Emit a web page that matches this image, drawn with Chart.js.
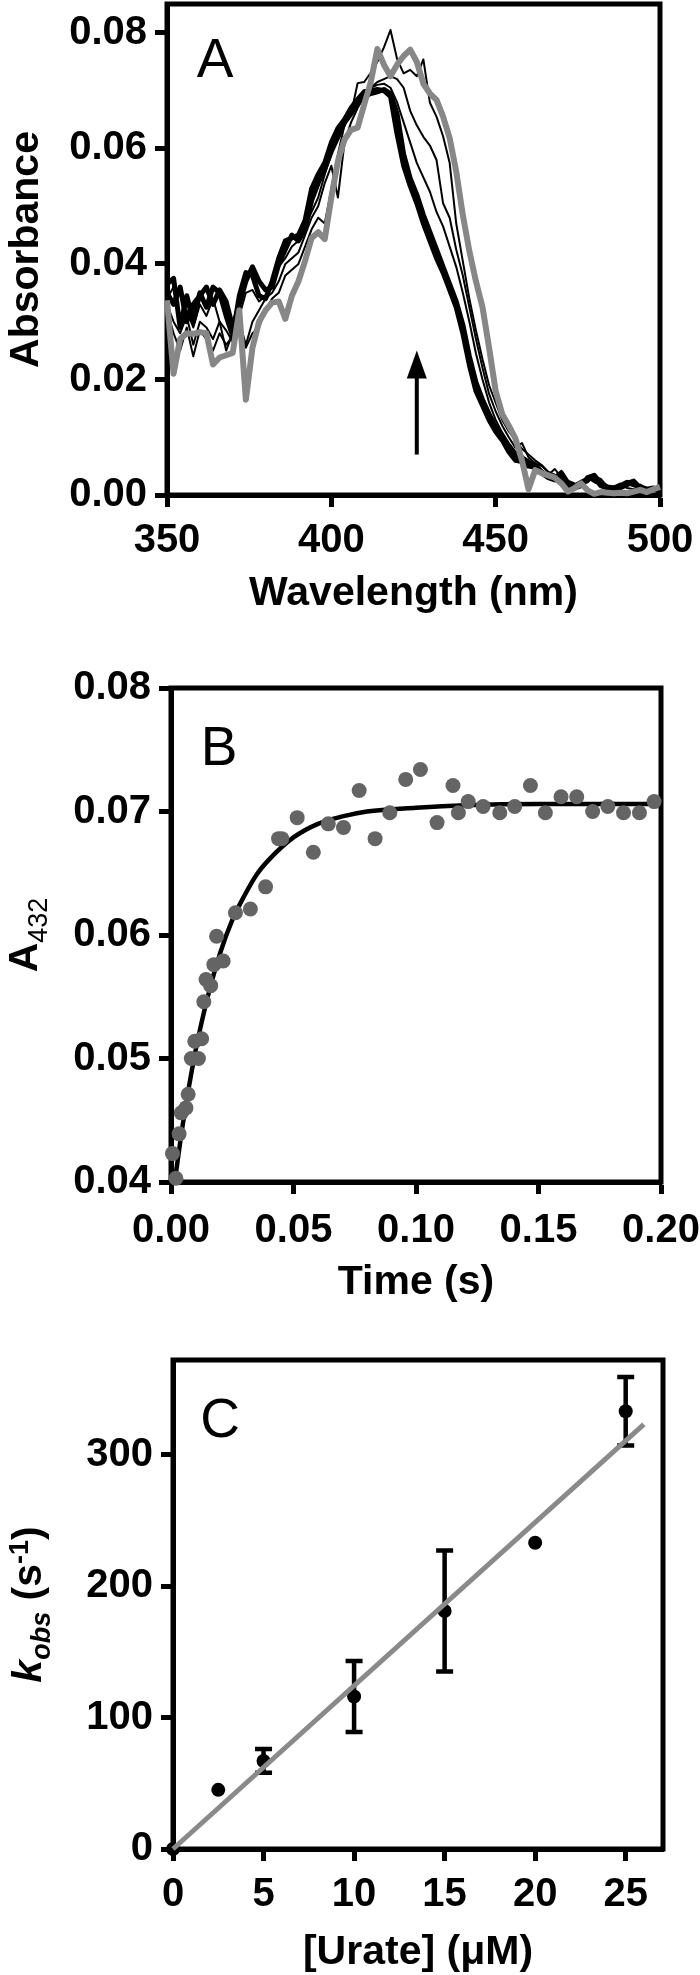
<!DOCTYPE html>
<html><head><meta charset="utf-8">
<script src="https://cdn.jsdelivr.net/npm/chart.js@4.4.1/dist/chart.umd.min.js"></script>
<style>
html,body{margin:0;padding:0;background:#fff;}
body{width:700px;height:1975px;position:relative;overflow:hidden;}
canvas{position:absolute;left:0;}
</style></head><body>
<canvas id="cA" width="700" height="650" style="top:0px;width:700px;height:650px"></canvas>
<canvas id="cB" width="700" height="680" style="top:650px;width:700px;height:680px"></canvas>
<canvas id="cC" width="700" height="645" style="top:1330px;width:700px;height:645px"></canvas>
<script>
// ---------------- Panel A data (spectra) ----------------
const wavelengths = [350,352,354,356,358,360,362,364,366,368,370,372,374,376,378,380,382,384,386,388,
390,392,394,396,398,400,402,404,406,408,410,412,414,416,418,420,422,424,426,428,
430,432,434,436,438,440,442,444,446,448,450,452,454,456,458,460,462,464,466,468,
470,472,474,476,478,480,482,484,486,488,490,492,494,496,498,500];
const absThick1 = [.0365,.0375,.0290,.0345,.0300,.0350,.0325,.0360,.0350,.0310,
.0275,.0345,.0385,.0380,.0345,.0340,.0370,.0410,.0440,.0445,
.0450,.0475,.0530,.0555,.0575,.0610,.0635,.0650,.0670,.0685,
.0698,.0700,.0702,.0700,.0690,.0625,.0570,.0535,.0505,.0470,
.0440,.0410,.0385,.0355,.0325,.0280,.0225,.0180,.0155,.0130,
.0110,.0095,.0075,.0060,.0058,.0050,.0048,.0038,.0030,.0026,
.0028,.0016,.0014,.0020,.0028,.0030,.0016,.0012,.0010,.0014,
.0020,.0024,.0012,.0008,.0010,.0006];
const absThick2 = [.0350,.0330,.0360,.0300,.0330,.0345,.0360,.0330,.0355,.0335,
.0290,.0330,.0370,.0395,.0370,.0355,.0360,.0400,.0425,.0450,
.0440,.0460,.0510,.0540,.0565,.0595,.0620,.0645,.0660,.0680,
.0690,.0695,.0698,.0702,.0695,.0660,.0590,.0548,.0520,.0485,
.0455,.0425,.0395,.0365,.0335,.0295,.0240,.0195,.0165,.0140,
.0118,.0100,.0085,.0068,.0060,.0056,.0052,.0040,.0032,.0030,
.0038,.0020,.0012,.0016,.0030,.0034,.0020,.0014,.0012,.0016,
.0022,.0018,.0014,.0010,.0012,.0008];
const absThin1 = [.0340,.0360,.0300,.0320,.0290,.0330,.0310,.0340,.0300,.0285,
.0265,.0310,.0350,.0355,.0335,.0345,.0365,.0395,.0410,.0430,
.0440,.0465,.0490,.0515,.0555,.0590,.0620,.0640,.0660,.0680,
.0695,.0705,.0710,.0712,.0705,.0680,.0645,.0610,.0575,.0550,
.0525,.0490,.0465,.0430,.0395,.0350,.0300,.0245,.0200,.0160,
.0130,.0108,.0090,.0075,.0068,.0060,.0050,.0042,.0035,.0045,
.0030,.0022,.0018,.0020,.0032,.0025,.0015,.0012,.0015,.0020,
.0012,.0010,.0015,.0012,.0008,.0010];
const absThin2 = [.0330,.0300,.0280,.0310,.0260,.0300,.0290,.0270,.0300,.0250,
.0280,.0300,.0260,.0300,.0320,.0340,.0350,.0370,.0400,.0410,
.0420,.0450,.0480,.0500,.0540,.0570,.0515,.0610,.0645,.0670,
.0690,.0705,.0715,.0720,.0725,.0720,.0705,.0665,.0640,.0620,
.0605,.0580,.0505,.0480,.0425,.0380,.0325,.0270,.0220,.0175,
.0145,.0120,.0100,.0082,.0090,.0065,.0055,.0050,.0040,.0032,
.0042,.0025,.0020,.0018,.0022,.0032,.0028,.0015,.0012,.0018,
.0022,.0015,.0018,.0010,.0012,.0008];
const absThin3 = [.0320,.0280,.0250,.0290,.0240,.0285,.0270,.0250,.0280,.0260,
.0275,.0285,.0255,.0280,.0290,.0320,.0340,.0350,.0380,.0390,
.0400,.0430,.0460,.0480,.0470,.0530,.0590,.0640,.0660,.0713,
.0715,.0731,.0750,.0775,.0805,.0755,.0730,.0736,.0725,.0754,
.0679,.0655,.0621,.0575,.0470,.0405,.0340,.0285,.0235,.0190,
.0160,.0130,.0110,.0095,.0080,.0070,.0060,.0052,.0040,.0035,
.0030,.0022,.0018,.0025,.0030,.0022,.0018,.0012,.0008,.0010,
.0015,.0020,.0012,.0008,.0014,.0010];
const absFinal = [.0337,.0210,.0270,.0280,.0279,.0282,.0280,.0226,.0238,.0242,
.0246,.0320,.0165,.0255,.0300,.0320,.0333,.0335,.0305,.0345,
.0370,.0405,.0445,.0455,.0443,.0515,.0578,.0615,.0632,.0636,
.0676,.0715,.0772,.0745,.0725,.0745,.0760,.0771,.0750,.0712,
.0695,.0684,.0655,.0618,.0560,.0485,.0422,.0370,.0325,.0255,
.0180,.0140,.0120,.0098,.0060,.0010,.0043,.0038,.0034,.0030,
.0020,.0006,.0012,.0020,.0008,.0002,.0005,.0004,.0003,.0004,
.0003,.0006,.0009,.0005,.0010,.0014];
const arrowWavelength = [426];
const arrowAbs = [0.007, 0.025];
const ticksA_x = [350, 400, 450, 500];
const ticksA_y = [0, 0.02, 0.04, 0.06, 0.08];

// ---------------- Panel B data (kinetic trace) ----------------
const timeB = [0.0006,0.0020,0.0033,0.0042,0.0061,0.0070,0.0083,0.0097,0.0112,0.0125,
0.0134,0.0143,0.0162,0.0175,0.0186,0.0213,0.0263,0.0324,0.0386,0.0439,
0.0452,0.0515,0.0581,0.0642,0.0704,0.0768,0.0833,0.0893,0.0958,0.1018,
0.1086,0.1151,0.1173,0.1213,0.1274,0.1342,0.1403,0.1467,0.1528,0.1592,
0.1656,0.1721,0.1783,0.1847,0.1912,0.1972];
const a432 = [0.0423,0.0403,0.0439,0.0456,0.0460,0.0471,0.0500,0.0514,0.0500,0.0516,
0.0546,0.0564,0.0559,0.0576,0.0599,0.0579,0.0618,0.0621,0.0639,0.0678,
0.0678,0.0695,0.0667,0.0690,0.0687,0.0717,0.0678,0.0699,0.0726,0.0734,
0.0691,0.0721,0.0699,0.0708,0.0704,0.0699,0.0704,0.0721,0.0699,0.0712,
0.0712,0.0700,0.0704,0.0699,0.0699,0.0708];
const fitTimeB = [0.0015,0.005,0.010,0.015,0.020,0.025,0.030,0.035,0.040,0.050,0.060,0.070,0.080,0.100,0.120,0.150,0.200];
const fitA432 = [0.0400,0.0449,0.0506,0.0550,0.0585,0.0612,0.0632,0.0649,0.0661,0.0679,0.0690,0.0696,0.0700,0.0703,0.0705,0.0706,0.0706];

// ---------------- Panel C data (kobs vs urate) ----------------
const urate = [0, 2.5, 5, 10, 15, 20, 25];
const kobs = [0, 45, 67, 116, 181, 233, 333];
const kobsErr = [0, 0, 9, 27, 46, 0, 26];
const fitUrate = [0, 26];
const fitKobs = [0, 323];

// ---------------- helpers ----------------
const FONT = "'Liberation Sans', Arial, Helvetica, sans-serif";
Chart.defaults.font.family = FONT;
Chart.defaults.color = '#000';

function axis(cfg) {
  return {
    type: 'linear',
    position: cfg.position,
    min: cfg.min, max: cfg.max,
    ticks: {
      stepSize: cfg.step, includeBounds: false, autoSkip: false,
      maxRotation: 0, minRotation: 0, padding: cfg.pad, color: '#000',
      font: {family: FONT, size: 40, weight: 'bold'},
      callback: cfg.fmt
    },
    grid: {display: true, drawOnChartArea: false, drawTicks: true,
      tickLength: 12, tickWidth: 5, tickColor: '#000'},
    border: {display: true, width: 5, color: '#000'},
    title: cfg.title ? {display: true, text: cfg.title, color: '#000',
      font: {family: FONT, size: 41, weight: 'bold', lineHeight: cfg.titleLH || 1.2},
      padding: {top: 0, bottom: cfg.titlePad}} : {display: false},
    afterFit: (s) => {
      if (cfg.position === 'left') s.width = cfg.size; else s.height = cfg.size;
      s.paddingTop = 0; s.paddingBottom = 0; s.paddingLeft = 0; s.paddingRight = 0;
    }
  };
}

function makeDecor(cfg) {
  return {
    id: 'decor' + cfg.name,
    beforeDatasetsDraw(chart) {
      const {ctx, chartArea: a} = chart;
      ctx.save();
      ctx.strokeStyle = '#000'; ctx.lineWidth = 5; ctx.lineJoin = 'miter';
      ctx.strokeRect(a.left, a.top, a.right - a.left, a.bottom - a.top);
      ctx.restore();
      if (cfg.errors) {
        const xs = chart.scales.x, ys = chart.scales.y, e = cfg.errors;
        ctx.save();
        ctx.strokeStyle = '#000'; ctx.lineWidth = 4.5; ctx.lineCap = 'butt';
        for (let i = 0; i < e.x.length; i++) {
          if (!e.err[i]) continue;
          const px = xs.getPixelForValue(e.x[i]);
          const lo = ys.getPixelForValue(e.y[i] - e.err[i]);
          const hi = ys.getPixelForValue(e.y[i] + e.err[i]);
          ctx.beginPath();
          ctx.moveTo(px, lo); ctx.lineTo(px, hi);
          ctx.moveTo(px - 8.5, lo); ctx.lineTo(px + 8.5, lo);
          ctx.moveTo(px - 8.5, hi); ctx.lineTo(px + 8.5, hi);
          ctx.stroke();
        }
        ctx.restore();
      }
    },
    afterDraw(chart) {
      const {ctx, chartArea: a} = chart;
      if (cfg.letter) {
        ctx.save();
        ctx.font = 'normal 55px ' + FONT;
        ctx.fillStyle = '#000'; ctx.textAlign = 'center'; ctx.textBaseline = 'middle';
        ctx.fillText(cfg.letter.text, cfg.letter.x, cfg.letter.y);
        ctx.restore();
      }
      if (cfg.ytitle) {
        const t = cfg.ytitle;
        ctx.save();
        let total = 0;
        const widths = t.segs.map(s => {
          ctx.font = (s.style || 'normal') + ' ' + (s.weight || 'bold') + ' ' + s.size + 'px ' + FONT;
          const w = ctx.measureText(s.text).width; total += w; return w;
        });
        ctx.translate(t.baseX, (a.top + a.bottom) / 2 + (t.shift || 0));
        ctx.rotate(-Math.PI / 2);
        ctx.fillStyle = '#000'; ctx.textBaseline = 'alphabetic'; ctx.textAlign = 'left';
        let u = -total / 2;
        t.segs.forEach((s, i) => {
          ctx.font = (s.style || 'normal') + ' ' + (s.weight || 'bold') + ' ' + s.size + 'px ' + FONT;
          ctx.fillText(s.text, u, s.dy || 0);
          u += widths[i];
        });
        ctx.restore();
      }
      if (cfg.arrow) {
        const xs = chart.scales.x, ys = chart.scales.y, ar = cfg.arrow;
        const px = xs.getPixelForValue(ar.x[0]);
        const yb = ys.getPixelForValue(ar.y[0]);
        const yt = ys.getPixelForValue(ar.y[1]);
        ctx.save();
        ctx.strokeStyle = '#000'; ctx.fillStyle = '#000'; ctx.lineWidth = 4;
        ctx.beginPath(); ctx.moveTo(px, yb); ctx.lineTo(px, yt + 20); ctx.stroke();
        ctx.beginPath(); ctx.moveTo(px, yt); ctx.lineTo(px - 10, yt + 28); ctx.lineTo(px + 10, yt + 28); ctx.closePath(); ctx.fill();
        ctx.restore();
      }
    }
  };
}

const common = {
  animation: false, responsive: false, devicePixelRatio: 1, events: [],
  plugins: {legend: {display: false}, tooltip: {enabled: false}}
};
const xy = (xa, ya) => xa.map((v, i) => ({x: v, y: ya[i]}));
const f2 = (v) => Number(v).toFixed(2);
const f0 = (v) => String(Math.round(v));

// ---------------- Chart A ----------------
function specLine(arr, color, width, order) {
  return {type: 'line', data: xy(wavelengths, arr), borderColor: color, borderWidth: width,
    pointRadius: 0, tension: 0, borderJoinStyle: 'round', order: order, clip: 4};
}
new Chart(document.getElementById('cA'), {
  type: 'line',
  data: {datasets: [
    specLine(absFinal, '#878787', 6, 0),
    specLine(absThin3, '#000', 2, 1),
    specLine(absThin2, '#000', 2, 2),
    specLine(absThin1, '#000', 2, 3),
    specLine(absThick2, '#000', 5, 4),
    specLine(absThick1, '#000', 5, 5)
  ]},
  options: Object.assign({}, common, {
    layout: {padding: {top: 4, right: 40, left: 0, bottom: 0}},
    scales: {
      x: axis({position: 'bottom', min: ticksA_x[0], max: ticksA_x[3], step: 50, pad: 10, fmt: f0,
               size: 155, title: 'Wavelength (nm)', titlePad: 32}),
      y: axis({position: 'left', min: ticksA_y[0], max: 0.085, step: 0.02, pad: 8, fmt: f2, size: 167})
    }
  }),
  plugins: [makeDecor({name: 'A', letter: {text: 'A', x: 215, y: 62},
    ytitle: {baseX: 38, segs: [{text: 'Absorbance', size: 41}]},
    arrow: {x: arrowWavelength, y: arrowAbs}})]
});

// ---------------- Chart B ----------------
new Chart(document.getElementById('cB'), {
  type: 'scatter',
  data: {datasets: [
    {type: 'scatter', data: xy(timeB, a432), pointRadius: 7.5, pointBackgroundColor: '#646464',
     pointBorderWidth: 0, borderWidth: 0, order: 0, clip: false},
    {type: 'line', data: xy(fitTimeB, fitA432), borderColor: '#000', borderWidth: 4.5, pointRadius: 0,
     cubicInterpolationMode: 'monotone', order: 1, clip: 4}
  ]},
  options: Object.assign({}, common, {
    layout: {padding: {top: 38, right: 39, left: 0, bottom: 0}},
    scales: {
      x: axis({position: 'bottom', min: 0, max: 0.2, step: 0.05, pad: 13, fmt: f2,
               size: 148, title: 'Time (s)', titlePad: 23}),
      y: axis({position: 'left', min: 0.04, max: 0.08, step: 0.01, pad: 8, fmt: f2, size: 171})
    }
  }),
  plugins: [makeDecor({name: 'B', letter: {text: 'B', x: 219, y: 100},
    ytitle: {baseX: 37, segs: [{text: 'A', size: 41}, {text: '432', size: 27, weight: 'normal', dy: 10}]}})]
});

// ---------------- Chart C ----------------
new Chart(document.getElementById('cC'), {
  type: 'scatter',
  data: {datasets: [
    {type: 'scatter', data: xy(urate, kobs), pointRadius: 7, pointBackgroundColor: '#000',
     pointBorderWidth: 0, borderWidth: 0, order: 1, clip: false},
    {type: 'line', data: xy(fitUrate, fitKobs), borderColor: '#8a8a8a', borderWidth: 5, pointRadius: 0,
     order: 0, clip: false}
  ]},
  options: Object.assign({}, common, {
    layout: {padding: {top: 30, right: 37, left: 0, bottom: 0}},
    scales: {
      x: axis({position: 'bottom', min: 0, max: 27.06, step: 5, pad: 10, fmt: f0,
               size: 126, title: '[Urate] (\u03bcM)', titlePad: 2, titleLH: 1.0}),
      y: axis({position: 'left', min: 0, max: 372, step: 100, pad: 8, fmt: f0, size: 173})
    }
  }),
  plugins: [makeDecor({name: 'C', letter: {text: 'C', x: 220, y: 92},
    errors: {x: urate, y: kobs, err: kobsErr},
    ytitle: {baseX: 41, segs: [
      {text: 'k', size: 41, style: 'italic'},
      {text: 'obs', size: 27, style: 'italic', dy: 9},
      {text: ' (s', size: 41},
      {text: '-1', size: 27, dy: -13},
      {text: ')', size: 41}
    ]}})]
});
</script>
</body></html>
